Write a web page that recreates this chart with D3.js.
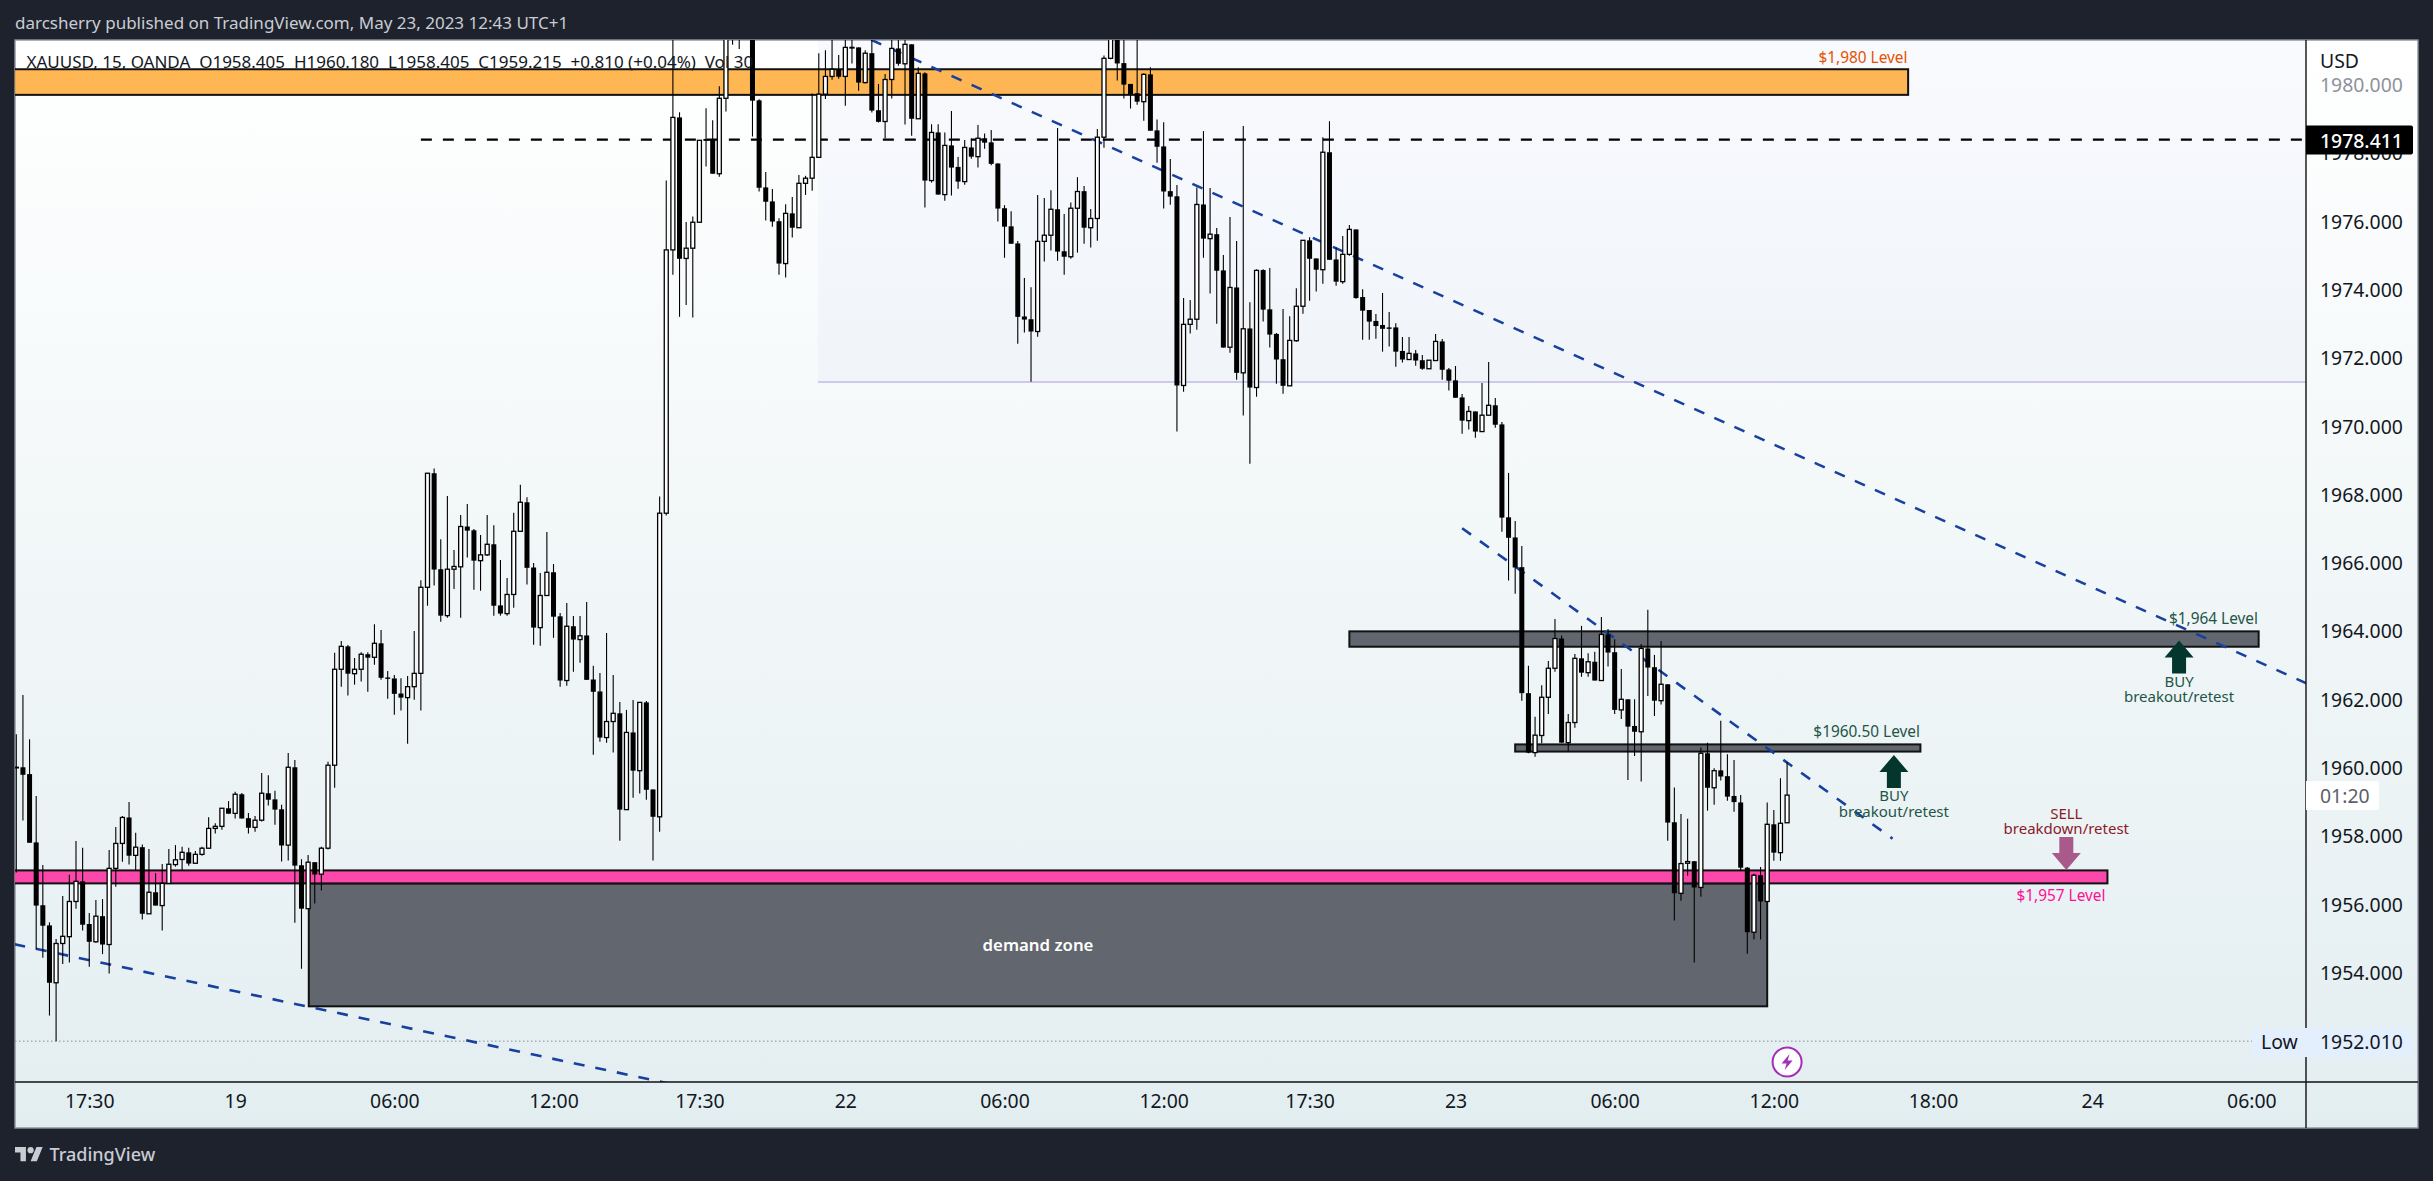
<!DOCTYPE html>
<html><head><meta charset="utf-8"><title>XAUUSD 15m</title>
<script src="https://cdnjs.cloudflare.com/ajax/libs/d3/7.8.5/d3.min.js"></script>
<style>html,body{margin:0;padding:0;background:#1e222d;overflow:hidden}svg{display:block}text{font-family:"Noto Sans",sans-serif}</style>
</head><body><svg id="c"></svg>
<script>
const opens=[1960.02,1960.03,1959.83,1957.83,1955.99,1955.40,1953.72,1954.87,1955.07,1956.10,
1956.69,1955.44,1954.92,1955.67,1954.84,1957.07,1957.80,1958.56,1957.45,1957.69,
1955.74,1956.37,1955.98,1956.63,1957.18,1957.33,1957.54,1957.22,1957.48,1957.66,
1958.24,1958.30,1958.83,1958.68,1959.24,1958.54,1958.27,1958.48,1959.27,1959.09,
1958.80,1957.75,1960.03,1957.16,1955.89,1957.25,1956.90,1957.66,1960.09,1962.90,
1963.57,1962.77,1962.90,1963.34,1963.25,1963.66,1962.66,1962.63,1962.19,1962.07,
1962.39,1962.78,1965.30,1968.64,1965.83,1964.47,1965.83,1965.90,1967.08,1966.97,
1966.08,1966.25,1966.56,1964.77,1964.53,1965.09,1966.94,1967.79,1965.88,1964.12,
1965.06,1965.74,1964.45,1962.57,1964.16,1963.77,1963.89,1962.60,1962.25,1960.90,
1961.37,1961.61,1958.79,1961.05,1959.93,1961.93,1959.38,1958.58,1967.47,1975.18,
1979.06,1974.93,1975.23,1975.99,1978.40,1978.41,1977.41,1979.62,1981.50,1982.20,
1981.60,1982.30,1979.56,1977.01,1976.60,1976.02,1974.78,1976.25,1975.83,1977.13,
1977.28,1977.89,1979.74,1980.26,1980.47,1980.26,1981.10,1981.11,1980.08,1980.94,
1979.27,1978.94,1980.17,1981.08,1980.63,1981.20,1979.02,1980.35,1977.21,1978.62,
1976.80,1978.24,1977.61,1977.18,1978.18,1977.91,1978.45,1978.33,1977.71,1976.40,
1975.87,1975.37,1973.23,1973.15,1972.79,1975.43,1975.61,1976.37,1975.14,1974.98,
1976.40,1976.90,1975.83,1976.10,1978.48,1980.79,1982.00,1980.65,1980.04,1979.77,
1979.52,1980.32,1978.68,1978.21,1976.90,1976.75,1971.21,1973.00,1973.15,1976.51,
1975.51,1975.64,1974.58,1972.33,1974.08,1971.58,1972.88,1971.15,1974.59,1973.44,
1972.72,1971.98,1971.20,1972.52,1973.53,1975.46,1974.93,1974.60,1978.04,1974.90,
1974.25,1975.05,1975.78,1973.80,1973.42,1973.10,1972.98,1972.91,1972.91,1972.22,
1971.97,1972.15,1971.95,1971.70,1971.94,1972.50,1971.68,1971.36,1970.86,1970.18,
1970.45,1969.86,1970.34,1970.63,1970.07,1967.35,1966.76,1965.89,1962.20,1960.46,
1960.96,1962.08,1962.93,1963.80,1960.75,1961.34,1963.22,1962.80,1963.12,1962.57,
1963.92,1963.40,1961.71,1962.02,1961.24,1961.07,1963.51,1962.96,1961.98,1962.46,
1958.42,1956.34,1957.22,1957.28,1956.51,1960.44,1959.43,1959.94,1959.77,1959.19,
1959.00,1957.09,1955.20,1956.87,1956.10,1958.36,1957.53,1958.405];
const highs=[1961.00,1962.15,1960.85,1959.19,1957.17,1955.49,1955.00,1956.26,1956.88,1957.87,
1957.67,1955.76,1956.14,1956.17,1957.61,1958.28,1958.60,1959.01,1958.11,1957.77,
1957.64,1956.93,1957.20,1957.64,1957.75,1957.70,1957.67,1957.58,1957.70,1958.57,
1958.39,1958.83,1959.04,1959.31,1959.28,1958.69,1958.60,1959.86,1959.80,1959.34,
1958.93,1960.45,1960.24,1957.34,1957.46,1957.25,1957.70,1960.19,1963.38,1963.73,
1963.61,1963.23,1963.40,1963.40,1964.22,1964.05,1962.85,1962.73,1962.64,1962.70,
1964.02,1965.51,1968.64,1968.78,1966.71,1967.97,1966.39,1967.42,1967.74,1967.01,
1966.83,1967.42,1967.12,1966.10,1965.57,1967.48,1968.30,1967.94,1966.01,1965.72,
1966.92,1965.98,1964.55,1964.84,1964.46,1964.46,1964.87,1963.00,1962.79,1963.96,
1962.73,1961.94,1961.71,1962.00,1961.93,1961.97,1959.38,1967.96,1977.21,1981.80,
1979.21,1976.00,1976.16,1978.39,1979.33,1978.98,1979.97,1982.20,1982.20,1982.60,
1982.80,1982.50,1979.59,1977.46,1976.96,1976.11,1976.52,1976.73,1977.37,1977.35,
1979.76,1980.94,1981.03,1981.50,1980.89,1981.50,1981.50,1981.11,1981.03,1981.50,
1980.04,1980.33,1981.50,1981.50,1981.50,1981.20,1980.53,1980.38,1978.86,1978.86,
1978.62,1979.25,1977.90,1978.40,1978.44,1978.84,1978.59,1978.69,1977.72,1976.49,
1976.31,1975.44,1974.36,1974.09,1976.79,1976.70,1976.93,1978.75,1976.23,1976.57,
1977.31,1977.05,1976.38,1978.72,1980.87,1982.30,1982.30,1981.60,1980.04,1981.60,
1980.35,1980.53,1979.00,1978.92,1977.84,1977.08,1973.77,1973.71,1977.01,1978.66,
1976.99,1975.82,1975.03,1976.14,1975.44,1978.81,1973.65,1974.61,1974.61,1974.65,
1972.75,1973.45,1973.24,1974.06,1975.46,1975.55,1974.93,1978.48,1978.95,1975.25,
1975.59,1975.91,1975.78,1974.03,1973.42,1973.30,1973.92,1973.36,1973.03,1972.63,
1972.63,1972.25,1972.10,1971.95,1972.72,1972.57,1971.72,1971.78,1970.96,1970.61,
1970.45,1971.28,1971.90,1970.84,1970.14,1968.65,1967.24,1966.51,1963.00,1961.51,
1962.43,1963.14,1964.37,1963.89,1961.59,1963.35,1964.17,1963.37,1963.41,1964.43,
1964.08,1963.78,1962.91,1962.02,1962.02,1963.64,1964.64,1963.32,1963.73,1962.46,
1959.44,1958.66,1958.52,1957.28,1960.61,1960.75,1960.00,1961.39,1960.41,1960.24,
1959.22,1957.11,1956.91,1957.11,1959.00,1958.78,1959.71,1960.18];
const lows=[1956.95,1958.47,1957.82,1954.70,1954.45,1952.76,1952.01,1954.27,1954.31,1955.89,
1955.25,1954.19,1954.89,1954.56,1953.99,1956.53,1957.26,1957.18,1957.02,1955.57,
1955.74,1955.98,1955.25,1956.63,1957.12,1957.02,1957.15,1957.21,1957.44,1957.65,
1958.09,1958.20,1958.67,1958.53,1958.53,1958.09,1958.14,1958.44,1958.91,1958.35,
1957.27,1957.30,1955.48,1954.13,1955.89,1956.04,1956.42,1957.62,1959.43,1962.39,
1962.13,1962.45,1962.54,1962.24,1963.03,1962.59,1962.04,1961.57,1961.69,1960.72,
1962.01,1961.69,1964.76,1965.35,1964.29,1964.41,1965.25,1964.41,1966.17,1965.23,
1965.20,1966.22,1964.47,1964.47,1964.47,1964.70,1966.94,1965.38,1963.62,1963.59,
1965.06,1963.82,1962.39,1962.42,1962.83,1963.09,1962.59,1960.40,1960.78,1960.75,
1960.46,1957.88,1958.79,1959.14,1959.26,1959.08,1957.30,1958.14,1967.40,1974.45,
1973.22,1973.57,1973.20,1975.99,1977.62,1977.41,1977.32,1979.23,1981.19,1981.06,
1981.50,1978.50,1976.89,1976.04,1975.86,1974.45,1974.37,1975.54,1975.83,1976.79,
1976.91,1977.89,1979.60,1980.16,1980.19,1979.40,1980.64,1979.84,1980.05,1979.20,
1978.91,1978.44,1979.61,1980.57,1978.85,1978.52,1979.02,1976.42,1977.15,1976.80,
1976.62,1976.77,1976.97,1977.09,1977.85,1977.59,1978.14,1977.66,1976.01,1974.95,
1975.36,1972.43,1972.76,1971.32,1972.64,1974.84,1975.16,1974.86,1974.45,1974.92,
1975.10,1975.36,1975.25,1975.45,1978.17,1980.76,1980.14,1979.61,1979.32,1979.43,
1978.96,1978.67,1977.73,1976.39,1976.50,1969.86,1971.03,1972.73,1972.84,1974.95,
1973.90,1973.02,1972.32,1972.17,1971.38,1970.33,1968.92,1970.88,1973.08,1972.32,
1971.26,1970.97,1971.20,1972.49,1973.31,1973.69,1973.96,1974.19,1974.89,1974.13,
1974.19,1975.01,1973.75,1972.55,1972.55,1972.58,1972.20,1972.35,1971.76,1971.88,
1971.97,1971.79,1971.67,1971.70,1971.94,1971.38,1971.06,1970.85,1969.80,1969.92,
1969.68,1969.86,1970.34,1969.97,1966.93,1965.50,1965.11,1961.98,1960.44,1960.34,
1960.73,1961.59,1962.83,1960.75,1960.51,1961.19,1962.68,1962.68,1962.57,1962.57,
1962.98,1961.59,1961.44,1959.66,1960.36,1959.61,1962.12,1961.53,1961.87,1957.88,
1955.54,1956.12,1956.85,1954.31,1956.24,1958.76,1958.93,1959.64,1959.05,1958.73,
1956.99,1954.57,1954.99,1954.99,1956.10,1957.29,1957.29,1958.405];
const closes=[1960.03,1959.81,1957.82,1955.98,1955.39,1953.72,1954.87,1955.08,1956.10,1956.69,
1955.42,1954.92,1955.67,1954.84,1957.07,1957.80,1958.56,1957.44,1957.69,1955.74,
1956.37,1955.98,1956.63,1957.19,1957.32,1957.54,1957.21,1957.48,1957.66,1958.24,
1958.30,1958.83,1958.67,1959.24,1958.53,1958.26,1958.48,1959.27,1959.08,1958.79,
1957.74,1960.03,1957.15,1955.89,1957.25,1956.89,1957.66,1960.09,1962.90,1963.57,
1962.77,1962.90,1963.34,1963.24,1963.66,1962.65,1962.63,1962.18,1962.07,1962.39,
1962.78,1965.30,1968.64,1965.82,1964.47,1965.83,1965.91,1967.08,1966.96,1966.08,
1966.25,1966.56,1964.76,1964.53,1965.09,1966.94,1967.79,1965.87,1964.12,1965.06,
1965.74,1964.44,1962.57,1964.16,1963.77,1963.88,1962.59,1962.24,1960.90,1961.37,
1961.61,1958.79,1961.05,1959.93,1961.93,1959.37,1958.58,1967.47,1975.18,1979.06,
1974.92,1975.23,1975.99,1978.39,1978.41,1977.41,1979.62,1981.50,1982.00,1981.60,
1982.40,1979.55,1977.00,1976.59,1976.01,1974.78,1976.25,1975.83,1977.13,1977.28,
1977.89,1979.74,1980.26,1980.47,1980.25,1981.11,1981.11,1980.08,1980.94,1979.26,
1978.93,1980.17,1981.08,1980.63,1981.20,1979.02,1980.35,1977.21,1978.62,1976.80,
1978.24,1977.59,1977.18,1978.18,1977.91,1978.45,1978.32,1977.70,1976.39,1975.86,
1975.36,1973.22,1973.14,1972.79,1975.43,1975.61,1976.37,1975.13,1974.98,1976.40,
1976.89,1975.83,1976.10,1978.48,1980.79,1982.00,1980.64,1980.02,1979.74,1979.52,
1980.32,1978.67,1978.20,1976.89,1976.74,1971.21,1973.00,1973.15,1976.51,1975.51,
1975.64,1974.57,1972.32,1974.08,1971.58,1972.87,1971.15,1974.58,1973.43,1972.70,
1971.97,1971.20,1972.53,1973.53,1975.46,1974.92,1974.60,1978.04,1974.89,1974.25,
1975.05,1975.78,1973.77,1973.40,1973.08,1972.95,1972.87,1972.87,1972.20,1971.97,
1972.15,1971.94,1971.70,1971.95,1972.50,1971.67,1971.35,1970.85,1970.18,1970.45,
1969.86,1970.34,1970.63,1970.06,1967.34,1966.75,1965.88,1962.20,1960.46,1960.97,
1962.08,1962.93,1963.80,1960.75,1961.34,1963.22,1962.80,1963.12,1962.57,1963.92,
1963.39,1961.71,1962.02,1961.22,1961.07,1963.51,1962.95,1961.98,1962.46,1958.41,
1956.34,1957.21,1957.27,1956.51,1960.44,1959.43,1959.93,1959.76,1959.17,1959.01,
1957.09,1955.20,1956.87,1956.10,1958.36,1957.53,1958.39,1959.215];

const timeTickBars=[11,33,57,81,103,125,149,173,195,217,241,265,289,313,337];
const timeTickLabels=["17:30","19","06:00","12:00","17:30","22","06:00","12:00","17:30","23","06:00","12:00","18:00","24","06:00"];
const priceTicks=[1954,1956,1958,1960,1962,1964,1966,1968,1970,1972,1974,1976,1978,1980];
const orangeZone=[-1,285.25,1980.47,1979.72];
const pinkZone=[-1,315.3,1957.01,1956.63];
const demandZone=[44.1,264,1956.63,1953.03];
const greyZoneA=[201,338.1,1964.01,1963.56];
const greyZoneB=[226,287.1,1960.70,1960.49];
const shadeZone=[120.9,345.4,1981.33,1971.31];
const trendA=[[128.9,1981.33],[345.4,1962.48]];
const trendB=[[218,1967.03],[282.9,1957.94]];
const trendC=[[-0.3,1954.85],[98.2,1950.78]];
const dashedLevel=[61,345.4,1978.411];
const lowLevel=1952.01;
const upArrows=[[283.1,1960.39],[326.1,1963.74]];
const downArrows=[[309.1,1957.02]];

const W=2433,H=1181,pL=15,pR=2418,pT=40,pB=1128,axisX=2306,axisY=1082;
const svg=d3.select("#c").attr("width",W).attr("height",H).attr("viewBox",[0,0,W,H]);
const x=d3.scaleLinear().domain([0,267]).range([16.3,1787.1]);
const y=d3.scaleLinear().domain([1964,1954]).range([631.7,973.2]);
const defs=svg.append("defs");
const g=defs.append("linearGradient").attr("id","bg").attr("x1",0).attr("x2",0).attr("y1",0).attr("y2",1);
g.append("stop").attr("offset",0).attr("stop-color","#ffffff");
g.append("stop").attr("offset",1).attr("stop-color","#e3eef1");
defs.append("clipPath").attr("id","plot").append("rect").attr("x",pL).attr("y",pT).attr("width",axisX-pL).attr("height",axisY-pT);

svg.append("rect").attr("width",W).attr("height",H).attr("fill","#1e222d");
svg.append("rect").attr("x",pL).attr("y",pT).attr("width",pR-pL).attr("height",pB-pT).attr("fill","url(#bg)").attr("stroke","#8d929c").attr("stroke-width",1.4);

const plot=svg.append("g").attr("clip-path","url(#plot)");
function zone(z,fill,stroke){
  plot.append("rect").attr("x",x(z[0])).attr("width",x(z[1])-x(z[0])).attr("y",y(z[2])).attr("height",y(z[3])-y(z[2]))
   .attr("fill",fill).attr("stroke",stroke||"none").attr("stroke-width",stroke?2:0);
}
zone(shadeZone,"rgba(40,90,235,.028)");
plot.append("line").attr("x1",x(shadeZone[0])).attr("x2",x(shadeZone[1])).attr("y1",y(shadeZone[3])).attr("y2",y(shadeZone[3])).attr("stroke","#c3b8e4").attr("stroke-width",1.6);
plot.append("line").attr("x1",pL).attr("x2",2252).attr("y1",y(lowLevel)).attr("y2",y(lowLevel)).attr("stroke","#8a8f94").attr("stroke-width",1).attr("stroke-dasharray","1.5 2.5");

const legend="XAUUSD, 15, OANDA  O1958.405  H1960.180  L1958.405  C1959.215  +0.810 (+0.04%)  Vol 30";
svg.append("text").attr("x",26.5).attr("y",62).attr("dy","0.36em").attr("font-size",17).attr("fill","#131722").attr("xml:space","preserve").style("white-space","pre").text(legend);

zone(orangeZone,"rgba(255,163,36,.78)","#111");
zone(demandZone,"#62676f","#111");
zone(pinkZone,"#fb48aa","#111");
zone(greyZoneA,"#62676f","#111");
zone(greyZoneB,"#62676f","#111");

const line=d3.line().x(d=>x(d[0])).y(d=>y(d[1]));
[trendA,trendB,trendC].forEach(t=>plot.append("path").attr("d",line(t)).attr("fill","none").attr("stroke","#17409f").attr("stroke-width",2.6).attr("stroke-dasharray","11 11"));
plot.append("line").attr("x1",x(dashedLevel[0])).attr("x2",x(dashedLevel[1])).attr("y1",y(dashedLevel[2])).attr("y2",y(dashedLevel[2])).attr("stroke","#000").attr("stroke-width",2.2).attr("stroke-dasharray","11 11");

function label(px,py,txt,color,anchor,size,weight){
  return svg.append("text").attr("x",px).attr("y",py).attr("dy","0.36em").attr("text-anchor",anchor||"middle").attr("font-size",size||15.4).attr("font-weight",weight||400).attr("fill",color).text(txt);
}
label(1907.5,57,"$1,980 Level","#e65100","end");
label(2258,618,"$1,964 Level","#1f5547","end");
label(1920,731.5,"$1960.50 Level","#1f5547","end");
label(2105.5,895.5,"$1,957 Level","#ff0f93","end");
label(1038,944.5,"demand zone","#ffffff","middle",16.8,600);

function arrow(d,up){
  const cx=x(d[0]),t=y(d[1]),dir=up?1:-1;
  const h=33,hh=17,hw=14.5,sw=7;
  const pts=[[0,0],[hw,hh],[sw,hh],[sw,h],[-sw,h],[-sw,hh],[-hw,hh]].map(p=>[cx+p[0],t+dir*p[1]]);
  plot.append("path").attr("d","M"+pts.join("L")+"Z").attr("fill",up?"#03362d":"#a95a8b");
}
upArrows.forEach(d=>arrow(d,true));
downArrows.forEach(d=>arrow(d,false));
upArrows.forEach(d=>{const cx=x(d[0]),t=y(d[1]);
  label(cx,t+41,"BUY","#1f5547","middle",15);label(cx,t+56.5,"breakout/retest","#1f5547","middle",15);});
downArrows.forEach(d=>{const cx=x(d[0]),t=y(d[1]);
  label(cx,t-56,"SELL","#8b1a2b","middle",15);label(cx,t-41,"breakdown/retest","#8b1a2b","middle",15);});

const bars=opens.map((o,i)=>({i,o,h:highs[i],l:lows[i],c:closes[i]}));
const cg=plot.append("g");
cg.selectAll("line").data(bars).join("line")
 .attr("x1",d=>x(d.i)).attr("x2",d=>x(d.i)).attr("y1",d=>y(d.h)).attr("y2",d=>y(d.l)).attr("stroke","#000").attr("stroke-width",1.1);
cg.selectAll("rect").data(bars).join("rect")
 .attr("x",d=>x(d.i)-(d.c>=d.o?2:2.5)).attr("width",d=>d.c>=d.o?4:5)
 .attr("y",d=>y(Math.max(d.o,d.c))).attr("height",d=>Math.max(d.c>=d.o?0.6:1.4,Math.abs(y(d.o)-y(d.c))))
 .attr("fill",d=>d.c>=d.o?"#fff":"#000").attr("stroke",d=>d.c>=d.o?"#000":"none").attr("stroke-width",1.3);

svg.append("line").attr("x1",axisX).attr("x2",axisX).attr("y1",pT).attr("y2",pB).attr("stroke","#111").attr("stroke-width",1.4);
svg.append("line").attr("x1",pL).attr("x2",pR).attr("y1",axisY).attr("y2",axisY).attr("stroke","#111").attr("stroke-width",1.4);

const yAxis=svg.append("g").attr("transform",`translate(${axisX},0)`).call(d3.axisRight(y).tickValues(priceTicks).tickSize(0).tickPadding(14).tickFormat(d3.format(".3f")));
yAxis.select(".domain").remove();
yAxis.selectAll("text").attr("font-size",19.4).attr("font-family",'"Noto Sans",sans-serif').attr("fill",d=>d===1980?"#8e929a":"#131722");
const xAxis=svg.append("g").attr("transform",`translate(0,${axisY})`).call(d3.axisBottom(x).tickValues(timeTickBars).tickSize(0).tickPadding(12).tickFormat((d,i)=>timeTickLabels[i]));
xAxis.select(".domain").remove();
xAxis.selectAll("text").attr("font-size",19.4).attr("font-family",'"Noto Sans",sans-serif').attr("fill","#131722");

label(2320,61,"USD","#131722","start",19.4);
svg.append("path").attr("d",`M${axisX} ${y(dashedLevel[2])-14}h105a2 2 0 0 1 2 2v25a2 2 0 0 1 -2 2h-105z`).attr("fill","#000");
label(2320,y(dashedLevel[2])+1,"1978.411","#fff","start",19.4,500);
svg.append("path").attr("d","M"+axisX+" 781h71a2 2 0 0 1 2 2v25a2 2 0 0 1 -2 2h-71z").attr("fill","#fff");
label(2320,796,"01:20","#5d606b","start",19.4);
svg.append("rect").attr("x",2252).attr("y",1028).attr("width",161).attr("height",29).attr("rx",2).attr("fill","#e3effd");
label(2261,1042,"Low","#131722","start",19.4);
label(2320,1042,"1952.010","#131722","start",19.4);

const bx=x(267),by=1062;
svg.append("circle").attr("cx",bx).attr("cy",by).attr("r",14.5).attr("fill","#fff").attr("stroke","#a32eb8").attr("stroke-width",2);
svg.append("path").attr("transform",`translate(${bx},${by})`).attr("d","M2.5 -8L-5.5 1.5H-0.5L-2.5 8L5.5 -1.5H0.5Z").attr("fill","#a32eb8");

label(15,23,"darcsherry published on TradingView.com, May 23, 2023 12:43 UTC+1","#c9ccd3","start",17);
svg.append("g").attr("transform","translate(15,1144) scale(0.78)").call(s=>{
  s.append("path").attr("d","M14 22H7V11H0V4h14v18zM28 22h-8l7.5-18h8L28 22z").attr("fill","#c9ccd3");
  s.append("circle").attr("cx",20).attr("cy",8).attr("r",4).attr("fill","#c9ccd3");
});
label(49.5,1155,"TradingView","#c9ccd3","start",18,500);
</script></body></html>
